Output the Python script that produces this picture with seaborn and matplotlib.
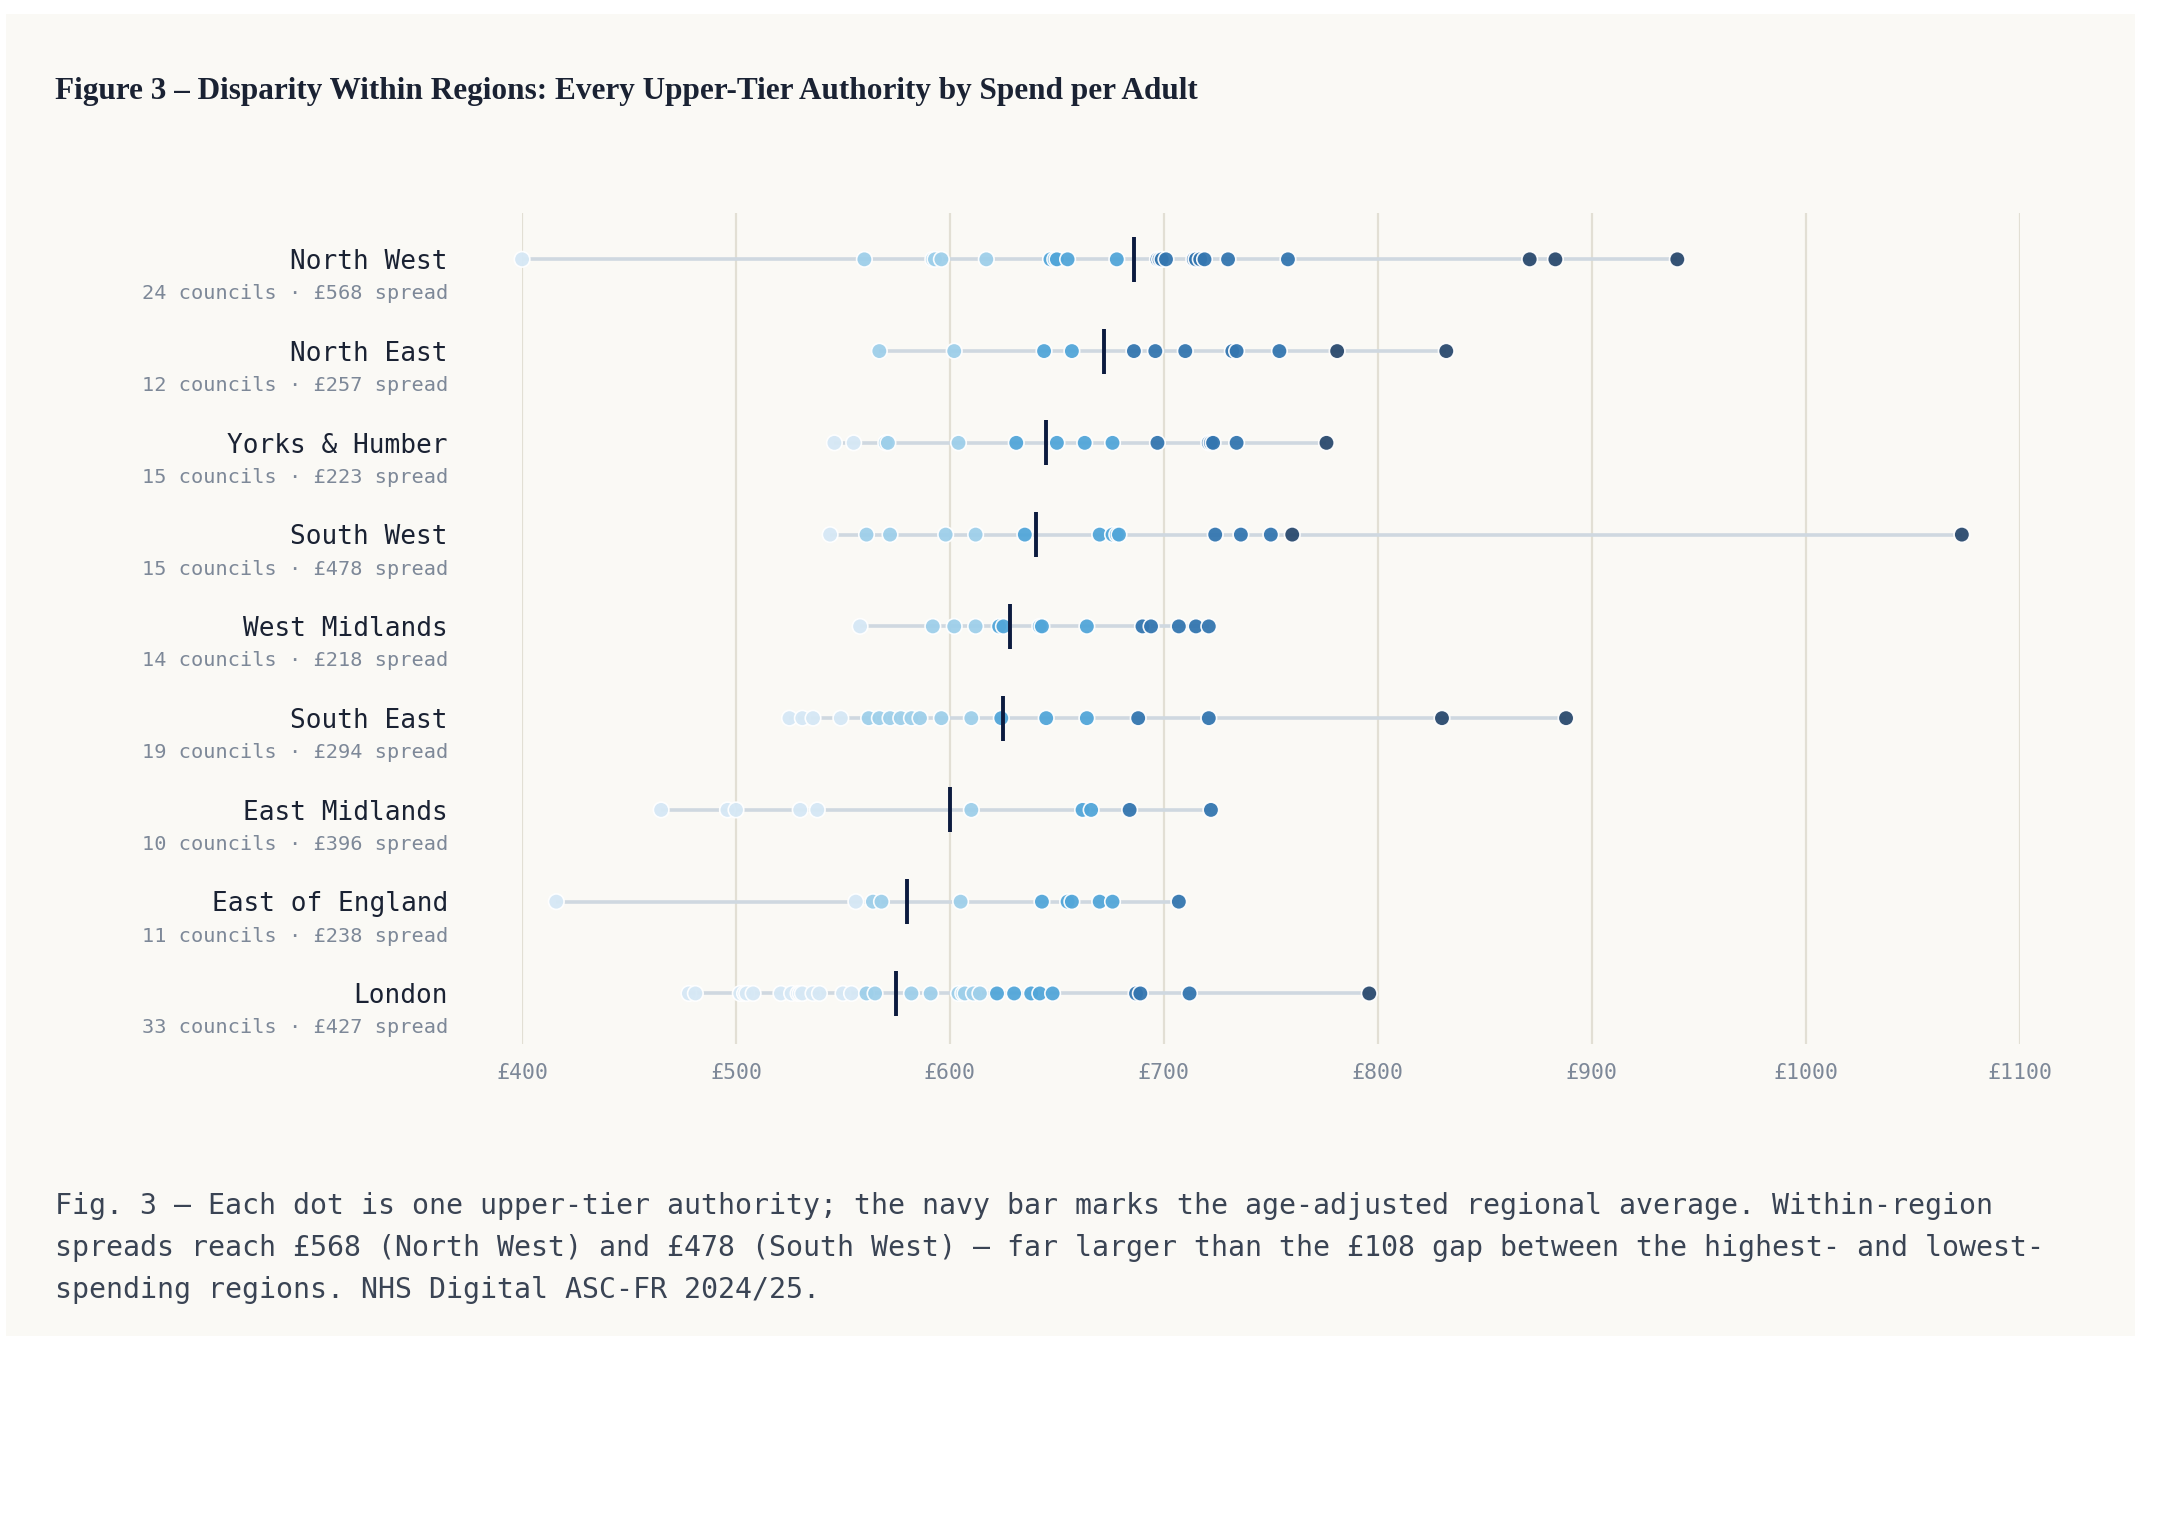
import numpy as np
import pandas as pd
import matplotlib
matplotlib.use("Agg")
import matplotlib.pyplot as plt
import matplotlib.transforms as mtransforms
from matplotlib.patches import Rectangle
import seaborn as sns

# regions, top to bottom
regions = ["North West", "North East", "Yorks & Humber", "South West", "West Midlands",
           "South East", "East Midlands", "East of England", "London"]
councils = [24, 12, 15, 15, 14, 19, 10, 11, 33]
spreads = [568, 257, 223, 478, 218, 294, 396, 238, 427]
region_means = [686, 672, 645, 640, 628, 625, 600, 580, 575]

# spend per adult (£) for every upper-tier authority
north_west = [400, 560, 592, 593, 596, 617, 647, 649, 650, 655, 678, 697, 698, 699, 701,
              714, 715, 717, 719, 730, 758, 871, 883, 940]
north_east = [567, 602, 644, 657, 686, 696, 710, 732, 734, 754, 781, 832]
yorks_humber = [546, 555, 570, 571, 604, 631, 650, 663, 676, 697, 721, 722, 723, 734, 776]
south_west = [544, 561, 572, 598, 612, 635, 670, 676, 678, 679, 724, 736, 750, 760, 1073]
west_midlands = [558, 592, 602, 612, 623, 625, 642, 643, 664, 690, 694, 707, 715, 721]
south_east = [525, 531, 536, 549, 562, 567, 572, 577, 582, 586, 596, 610, 624, 645, 664,
              688, 721, 830, 888]
east_midlands = [465, 496, 500, 530, 538, 610, 662, 666, 684, 722]
east_of_england = [416, 556, 564, 568, 605, 643, 655, 657, 670, 676, 707]
london = [478, 481, 502, 504, 505, 508, 521, 526, 529, 530, 531, 536, 539, 550, 554, 561,
          565, 582, 591, 604, 606, 607, 611, 614, 622, 630, 638, 642, 648, 687, 689, 712, 796]

tick_values = [400, 500, 600, 700, 800, 900, 1000, 1100]
tick_labels = ["£400", "£500", "£600", "£700", "£800", "£900", "£1000", "£1100"]

# colour bands for the dots
band_edges = [0, 558.5, 620, 681, 759.5, 5000]
band_colors = ["#d6e8f5", "#9ecfea", "#52a6d9", "#3476b0", "#2a4a6e"]

all_values = [north_west, north_east, yorks_humber, south_west, west_midlands,
              south_east, east_midlands, east_of_england, london]

rows = []
for i, (name, vals) in enumerate(zip(regions, all_values)):
    for v in vals:
        rows.append({"region": name, "pos": i, "spend": v})
df = pd.DataFrame(rows)
df["band"] = pd.cut(df["spend"], bins=band_edges, labels=False)

NAVY = "#0c1b3f"
INK = "#1a2233"
GREY = "#7d8898"
CARD = "#faf9f5"

fig = plt.figure(figsize=(21.6, 15.3), dpi=100, facecolor="white")
fig.patches.append(Rectangle((0.003, 0.127), 0.9855, 0.864, transform=fig.transFigure,
                             facecolor=CARD, edgecolor="none", zorder=-10))

ax = fig.add_axes([0.2417, 0.3177, 0.6933, 0.5428])
ax.set_facecolor("none")

for x in tick_values:
    ax.axvline(x, color="#e2dfd4", lw=1.6, zorder=0)

lo = df.groupby("pos")["spend"].min()
hi = df.groupby("pos")["spend"].max()
ax.hlines(lo.index, lo.values, hi.values, color="#cfd8e0", lw=2.6, zorder=1)

sns.scatterplot(data=df, x="spend", y="pos", hue="band", palette=band_colors,
                s=125, edgecolor="white", linewidth=1.2, alpha=0.95,
                legend=False, ax=ax, zorder=3, clip_on=False)

ax.vlines(region_means, np.arange(len(regions)) - 0.245, np.arange(len(regions)) + 0.245,
          color=NAVY, lw=2.8, zorder=4)

ax.set_xlim(400, 1100)
ax.set_ylim(len(regions) - 0.45, -0.5)
ax.set_yticks([])
ax.set_xticks(tick_values)
ax.set_xticklabels(tick_labels, family="DejaVu Sans Mono", fontsize=15.5, color=GREY)
ax.tick_params(axis="x", length=0, pad=14)
ax.set_xlabel("")
ax.set_ylabel("")
for s in ax.spines.values():
    s.set_visible(False)

trans = mtransforms.blended_transform_factory(fig.transFigure, ax.transData)
for i, name in enumerate(regions):
    ax.text(0.2073, i + 0.03, name, transform=trans, ha="right", va="center",
            family="DejaVu Sans Mono", fontsize=18.8, color=INK)
    ax.text(0.2073, i + 0.375, f"{councils[i]} councils · £{spreads[i]} spread",
            transform=trans, ha="right", va="center",
            family="DejaVu Sans Mono", fontsize=14.6, color=GREY)

fig.text(0.0255, 0.9404,
         "Figure 3 – Disparity Within Regions: Every Upper-Tier Authority by Spend per Adult",
         ha="left", va="center", family="Liberation Serif", fontweight="bold",
         fontsize=22.5, color=INK)

caption = [
    "Fig. 3 — Each dot is one upper-tier authority; the navy bar marks the age-adjusted regional average. Within-region",
    "spreads reach £568 (North West) and £478 (South West) — far larger than the £108 gap between the highest- and lowest-",
    "spending regions. NHS Digital ASC-FR 2024/25.",
]
for k, line in enumerate(caption):
    fig.text(0.0255, 0.2118 - k * 0.0276, line, ha="left", va="center",
             family="DejaVu Sans Mono", fontsize=20.3, color="#3a4454")

fig.savefig("out.png", dpi=100, facecolor="white")
